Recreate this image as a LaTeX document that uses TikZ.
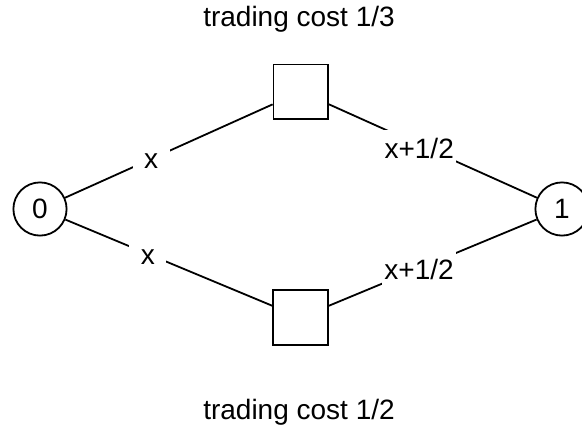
\documentclass[tikz,border=0pt]{standalone}
\usepackage{fontspec}
\setmainfont{Liberation Sans}
\begin{document}
\begin{tikzpicture}[x=1pt,y=-1pt,line width=1.8pt,
  every node/.style={font=\fontsize{28}{34}\selectfont},
  roundnode/.style={circle,draw,fill=white,minimum size=53.2pt,inner sep=0pt},
  boxnode/.style={rectangle,draw,fill=white,minimum size=54.5pt,inner sep=0pt},
  lbl/.style={fill=white,inner xsep=2.5pt,inner ysep=0pt,minimum width=37pt,minimum height=36pt},
  caption/.style={anchor=base}]
\clip (0,0) rectangle (582,429);
\node[roundnode] (n0) at (40,209) {0};
\node[roundnode] (n1) at (562,209) {1};
\node[boxnode] (top) at (300.8,91.7) {};
\node[boxnode] (bot) at (300.5,317.5) {};
\draw (n0) -- node[lbl,pos=0.414,yshift=-1.6pt] (l1) {x} (top);
\draw (n0) -- node[lbl,pos=0.398,yshift=-3.5pt] (l2) {x} (bot);
\draw (top) -- node[lbl,pos=0.434,yshift=-3.5pt] (l3) {x+1/2} (n1);
\draw (bot) -- node[lbl,pos=0.435,yshift=-1pt] (l4) {x+1/2} (n1);
\node[caption] (c1) at (299,26) {trading cost 1/3};
\node[caption] (c2) at (299,419) {trading cost 1/2};
\end{tikzpicture}
\end{document}
